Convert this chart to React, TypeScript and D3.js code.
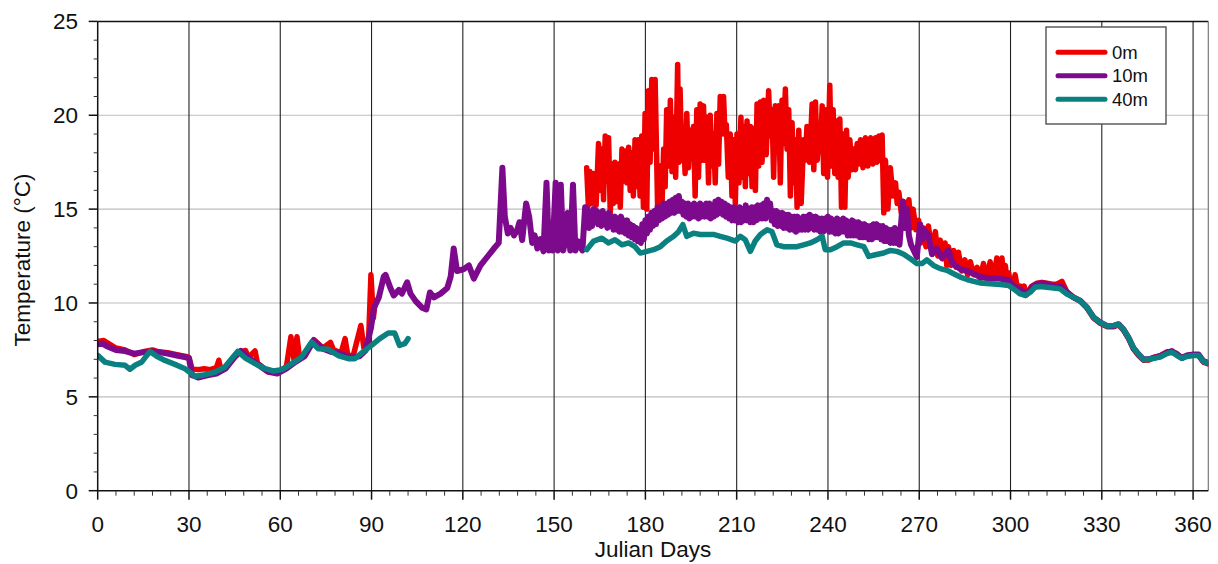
import React from "react";
import * as d3 from "d3";

// ---- Data: water temperature (°C) by Julian day at three depths ----
type Pt = [number, number];
type Cycle = [number, number, number]; // [day, daily max, daily min]

const xTicks = [0, 30, 60, 90, 120, 150, 180, 210, 240, 270, 300, 330, 360];
const yTicks = [0, 5, 10, 15, 20, 25];
const seriesNames = ["0m", "10m", "40m"];
const seriesColors = ["#ee0000", "#7d0a8c", "#0b8080"];

// 0 m, winter/spring
const surfaceEarly: Pt[] = [
  [0, 7.95], [2, 8.0], [4, 7.8], [6, 7.6], [9, 7.5], [12, 7.25], [15, 7.4], [18, 7.5],
  [20, 7.4], [23, 7.35], [26, 7.25], [29, 7.15], [30, 7.1], [31, 6.5], [33, 6.45], [35, 6.5],
  [37, 6.45], [39, 6.55], [39.8, 6.95], [40.5, 6.45], [42, 6.6], [45, 7.15], [47, 7.4],
  [48.6, 7.47], [49.5, 7.1], [51.7, 7.45], [52.5, 6.8], [56, 6.35], [59, 6.3], [62, 6.6],
  [63.5, 8.2], [64.5, 7.0], [65.5, 8.2], [66.3, 7.1], [68, 7.25], [71, 8.05], [74, 7.6],
  [76.5, 7.9], [77.5, 7.5], [80, 7.35], [81.3, 8.1], [82.2, 7.2], [84, 7.2], [86.5, 8.8],
  [87.5, 7.6], [89, 7.9], [89.8, 11.5], [90.6, 9.2], [91, 9.8],
];

// 0 m, summer: daily max / min
const surfaceCycles: Cycle[] = [
  [160.7, 17.2, 15.2], [161.8, 17.0, 15.3], [163.0, 16.9, 15.2], [164.6, 18.5, 16.0],
  [165.7, 18.2, 15.5], [166.8, 18.9, 16.5], [167.9, 18.8, 14.8], [169.0, 17.4, 15.3],
  [170.0, 17.5, 15.4], [171.2, 17.4, 15.1], [172.3, 18.2, 16.5], [173.4, 18.1, 16.4],
  [174.5, 18.3, 16.0], [175.5, 18.0, 15.7], [176.6, 18.7, 16.2], [177.7, 18.7, 15.7],
  [178.8, 18.9, 15.1], [179.9, 20.1, 15.0], [181.0, 21.3, 17.5], [182.1, 21.9, 18.2],
  [183.2, 21.9, 14.8], [184.9, 17.3, 15.1], [186.0, 18.2, 16.2], [187.0, 20.3, 17.3],
  [188.2, 20.8, 17.0], [189.3, 19.9, 16.7], [190.6, 22.7, 17.5], [191.4, 21.4, 17.6],
  [192.5, 19.0, 16.9], [193.6, 20.1, 17.2], [194.7, 19.2, 18.5], [195.8, 19.4, 15.7],
  [196.9, 20.3, 16.7], [198.0, 20.6, 17.6], [199.1, 20.5, 17.6], [200.2, 19.9, 16.4],
  [201.3, 20.0, 17.3], [202.4, 19.0, 16.4], [203.5, 20.1, 17.4], [204.6, 21.0, 19.0],
  [205.7, 21.0, 19.0], [206.6, 19.5, 16.7], [207.9, 19.0, 15.7], [209.0, 18.7, 15.3],
  [210.1, 19.0, 16.4], [211.4, 19.9, 16.7], [212.3, 19.4, 16.2], [213.4, 19.7, 16.9],
  [214.5, 19.4, 16.2], [215.6, 19.3, 16.0], [216.7, 20.6, 17.3], [217.8, 20.7, 17.5],
  [218.9, 20.8, 17.9], [220.5, 21.3, 18.9], [221.6, 20.3, 16.7], [222.7, 20.5, 18.9],
  [223.8, 20.5, 16.4], [224.9, 20.8, 18.5], [226.0, 21.4, 18.2], [227.1, 20.3, 15.7],
  [228.2, 19.6, 16.4], [229.3, 18.7, 15.1], [230.4, 19.2, 15.3], [232.0, 18.7, 17.6],
  [233.1, 19.4, 17.5], [234.8, 20.6, 17.1], [235.9, 20.7, 17.6], [237.0, 18.7, 18.2],
  [238.1, 20.5, 16.9], [239.1, 20.3, 16.7], [240.6, 21.6, 17.3], [241.7, 20.3, 16.9],
  [242.8, 19.7, 16.7], [243.9, 19.8, 15.1], [245.0, 19.0, 15.1], [246.1, 19.2, 16.7],
  [247.2, 18.7, 17.1], [248.5, 18.2, 17.1], [249.6, 18.5, 17.4], [250.7, 18.7, 17.2],
  [252.3, 18.8, 17.3], [254.0, 18.8, 17.4], [255.6, 18.8, 17.5], [256.7, 18.9, 17.6],
  [257.8, 18.95, 14.8], [258.9, 17.6, 15.0], [260.5, 17.2, 15.7], [262.2, 16.4, 15.3],
  [263.3, 15.9, 14.8], [264.9, 15.4, 14.6], [266.6, 15.5, 14.0], [268.0, 15.0, 13.9],
  [269.8, 14.4, 13.2], [271.4, 14.0, 13.0], [273.0, 14.1, 12.8], [275.3, 13.8, 12.5],
  [276.9, 13.35, 12.35], [278.5, 13.2, 12.0], [279.6, 13.0, 12.0], [281.3, 12.8, 11.9],
  [282.9, 12.7, 11.7], [285.0, 12.3, 11.5], [286.8, 12.2, 11.5], [289.0, 11.9, 11.3],
  [291.1, 12.1, 11.3], [293.3, 12.2, 11.3], [295.5, 12.4, 11.3], [297.2, 12.4, 11.2],
  [298.3, 12.0, 11.2], [299.4, 11.6, 11.1], [300.4, 11.2, 10.9], [301.5, 11.5, 10.7],
  [303.2, 10.9, 10.5], [304.5, 10.9, 10.4],
];

// 0 m, autumn/winter
const surfaceLate: Pt[] = [
  [305.4, 10.5], [307, 10.9], [308.7, 11.05], [310.3, 11.1], [312, 11.05], [313.6, 11.0],
  [315.2, 11.0], [316.9, 11.15], [318.5, 10.6], [320.7, 10.3], [322.9, 10.1], [325.1, 9.75],
  [327.3, 9.2], [329.5, 8.92], [331.7, 8.74], [333.9, 8.74], [335.5, 8.83], [337.1, 8.56],
  [338.8, 8.1], [340.4, 7.55], [342.1, 7.2], [343.7, 6.95], [345.4, 6.96], [347, 7.1],
  [349.2, 7.2], [351.4, 7.4], [353, 7.4], [354.7, 7.3], [356.3, 7.05], [358, 7.2],
  [360.1, 7.25], [361.8, 7.2], [363.4, 6.85], [365, 6.75],
];

// 10 m, winter to early summer
const midEarly: Pt[] = [
  [0, 7.8], [1.5, 7.85], [3, 7.7], [6, 7.5], [9, 7.44], [12, 7.3], [15, 7.38], [18, 7.42],
  [20, 7.38], [23, 7.3], [26, 7.2], [29, 7.1], [30, 7.05], [31, 6.15], [33, 6.03], [36, 6.15],
  [39, 6.24], [42, 6.5], [45, 7.12], [47, 7.45], [50, 7.03], [53, 6.68], [56, 6.33],
  [59, 6.24], [62, 6.5], [65, 6.86], [68, 7.16], [71, 8.0], [74, 7.56], [77, 7.38], [80, 7.3],
  [83, 7.08], [86, 7.16], [88, 7.47], [89.8, 8.67], [90.8, 9.75], [92.4, 10.3], [94, 11.4],
  [94.6, 11.5], [96.2, 10.8], [97.3, 10.4], [99, 10.7], [100, 10.5], [101.7, 11.1],
  [102.8, 10.5], [104.5, 10.1], [106.6, 9.75], [108, 9.66], [109.2, 10.56], [110.5, 10.3],
  [112.7, 10.5], [114.9, 10.8], [116, 11.4], [117, 12.9], [118.1, 11.7], [120.3, 11.8],
  [122, 12.0], [123.6, 11.3], [125.8, 12.0], [128, 12.45], [130.2, 12.9], [131.8, 13.2],
  [133.0, 17.2], [133.8, 14.6], [134.8, 13.7], [135.7, 14.0], [136.8, 13.6], [137.9, 13.9],
  [138.6, 14.3], [139.5, 13.35], [140.8, 15.3], [141.8, 14.6], [142.8, 13.2], [143.6, 13.6],
  [144.5, 12.9], [145.5, 13.4], [146.5, 12.75], [147.5, 16.4], [148.3, 12.8], [149.0, 13.3],
  [149.5, 12.8], [150.5, 16.4], [151.2, 12.8], [152.2, 16.3], [153.0, 12.8], [153.8, 13.4],
  [154.5, 14.8], [155.3, 12.8], [156.2, 16.3], [157.0, 12.8], [157.8, 13.3], [158.5, 13.0],
  [159.3, 12.8], [160.2, 15.1],
];

// 10 m, summer: daily max / min
const midCycles: Cycle[] = [
  [161, 15.0, 14.0], [162, 14.8, 14.1], [163, 15.0, 14.3], [164, 14.9, 14.2], [165, 14.8, 14.1],
  [166, 14.9, 14.2], [167, 14.7, 14.0], [168, 14.8, 14.1], [169, 14.6, 13.9], [170, 14.6, 13.9],
  [171, 14.5, 13.8], [172, 14.6, 13.8], [173, 14.4, 13.7], [174, 14.4, 13.6], [175, 14.2, 13.5],
  [176, 14.1, 13.4], [177, 14.0, 13.3], [178, 13.9, 13.2], [179, 14.2, 13.4], [180, 14.4, 13.7],
  [181, 14.6, 13.9], [182, 14.8, 14.1], [183, 14.9, 14.2], [184, 15.1, 14.4], [185, 15.1, 14.5],
  [186, 15.3, 14.6], [187, 15.3, 14.7], [188, 15.4, 14.8], [189, 15.5, 14.8], [190, 15.6, 14.9],
  [191, 15.7, 14.9], [192, 15.4, 14.7], [193, 15.3, 14.6], [194, 15.3, 14.5], [195, 15.2, 14.6],
  [196, 15.3, 14.6], [197, 15.2, 14.5], [198, 15.3, 14.6], [199, 15.2, 14.6], [200, 15.3, 14.6],
  [201, 15.3, 14.5], [202, 15.2, 14.6], [203, 15.4, 14.7], [204, 15.5, 14.8], [205, 15.4, 14.7],
  [206, 15.3, 14.6], [207, 15.2, 14.5], [208, 15.1, 14.4], [209, 15.1, 14.4], [210, 15.0, 14.3],
  [211, 15.1, 14.3], [212, 15.0, 14.4], [213, 15.2, 14.4], [214, 15.0, 14.3], [215, 15.1, 14.3],
  [216, 15.1, 14.4], [217, 15.2, 14.5], [218, 15.2, 14.5], [219, 15.3, 14.5], [220, 15.5, 14.7],
  [221, 15.3, 14.4], [222, 14.9, 14.2], [223, 14.9, 14.1], [224, 14.8, 14.1], [225, 14.8, 14.0],
  [226, 14.7, 14.0], [227, 14.7, 13.9], [228, 14.6, 13.9], [229, 14.6, 13.8], [230, 14.6, 13.9],
  [231, 14.5, 13.9], [232, 14.6, 13.9], [233, 14.6, 13.9], [234, 14.7, 14.0], [235, 14.6, 13.9],
  [236, 14.6, 13.9], [237, 14.5, 13.8], [238, 14.5, 13.8], [239, 14.5, 13.9], [240, 14.6, 13.8],
  [241, 14.5, 13.8], [242, 14.4, 13.7], [243, 14.5, 13.7], [244, 14.4, 13.8], [245, 14.5, 13.8],
  [246, 14.4, 13.6], [247, 14.3, 13.6], [248, 14.4, 13.6], [249, 14.3, 13.6], [250, 14.3, 13.5],
  [251, 14.2, 13.5], [252, 14.2, 13.5], [253, 14.1, 13.4], [254, 14.1, 13.4], [255, 14.2, 13.5],
  [256, 14.2, 13.5], [257, 14.1, 13.4], [258, 14.1, 13.3], [259, 14.0, 13.3], [260, 13.9, 13.2],
  [261, 13.9, 13.2], [262, 14.0, 13.2], [263, 13.8, 13.1],
];

// 10 m, autumn/winter
const midLate: Pt[] = [
  [264.6, 15.4], [265.3, 14.0], [266.0, 15.0], [266.6, 13.6], [267.3, 13.1], [268.2, 12.8],
  [269.2, 12.45], [270.3, 14.2], [271.0, 13.4], [271.6, 13.9], [273.0, 13.6], [274.2, 12.6],
  [275.8, 12.9], [277.4, 12.4], [278.5, 12.6], [279.6, 12.8], [280.7, 12.2], [281.8, 12.0],
  [283.5, 11.8], [285.7, 11.7], [287.9, 11.56], [290, 11.38], [293.3, 11.3], [296.6, 11.3],
  [299.4, 11.2], [301, 10.9], [303.7, 10.66], [305.4, 10.48], [307, 10.84], [308.7, 11.0],
  [310.3, 11.05], [312, 11.0], [313.6, 10.93], [315.2, 10.9], [316.9, 10.84], [318.5, 10.57],
  [320.7, 10.3], [322.9, 10.12], [325.1, 9.77], [327.3, 9.23], [329.5, 8.96], [331.7, 8.78],
  [333.9, 8.78], [335.5, 8.87], [337.1, 8.6], [338.8, 8.15], [340.4, 7.6], [342.1, 7.26],
  [343.7, 7.0], [345.4, 7.0], [347, 7.08], [349.2, 7.17], [351.4, 7.35], [353, 7.44],
  [354.7, 7.26], [356.3, 7.08], [358, 7.2], [360.1, 7.26], [361.8, 7.26], [363.4, 6.9],
  [365, 6.8],
];

// 40 m, winter/spring
const deepEarly: Pt[] = [
  [0, 7.21], [2.4, 6.85], [5.7, 6.73], [9, 6.68], [10.6, 6.47], [12.3, 6.68], [14.5, 6.86],
  [17.2, 7.42], [19.4, 7.16], [22.1, 6.94], [25.4, 6.73], [28.7, 6.5], [32, 6.1], [35.3, 6.18],
  [38.6, 6.32], [41.8, 6.59], [44, 7.03], [46, 7.42], [48.4, 7.08], [51.7, 6.77], [55, 6.5],
  [57.7, 6.38], [60.5, 6.45], [63.8, 6.77], [67, 7.12], [70.3, 7.92], [72.5, 7.56],
  [75.8, 7.53], [79, 7.2], [82.4, 7.03], [84.5, 7.03], [86.7, 7.33], [90, 7.74], [92.7, 8.1],
  [95.5, 8.4], [97.6, 8.4], [99.2, 7.74], [100.9, 7.83], [102, 8.1],
];

// 40 m, summer to winter
const deepLate: Pt[] = [
  [160.7, 12.84], [163, 13.3], [165.7, 13.45], [167.9, 13.2], [170, 13.37], [172.3, 13.1],
  [174.5, 13.2], [176.6, 13.0], [178.3, 12.66], [180.5, 12.75], [182.7, 12.84], [184.9, 13.0],
  [187, 13.3], [189.3, 13.55], [190.9, 13.8], [192.3, 14.17], [193.6, 13.55], [195.8, 13.72],
  [198, 13.65], [200.2, 13.65], [202.4, 13.65], [204.6, 13.55], [206.8, 13.45], [209.6, 13.3],
  [211.2, 13.55], [212.8, 13.37], [214.5, 12.75], [216.1, 13.3], [217.8, 13.65], [220, 13.9],
  [221.6, 13.8], [223.2, 13.1], [225.4, 13.0], [227.6, 13.0], [229.8, 13.0], [232, 13.1],
  [234.2, 13.2], [236.4, 13.37], [238.1, 13.55], [239.1, 12.84], [240.8, 12.84], [243, 13.0],
  [245.2, 13.2], [247.4, 13.2], [249.6, 13.1], [251.8, 13.0], [253.4, 12.48], [255.6, 12.57],
  [258.3, 12.66], [260.5, 12.8], [262.7, 12.75], [264.9, 12.6], [267.1, 12.35], [269.2, 12.1],
  [270.9, 12.1], [272.5, 12.3], [274.7, 12.0], [276.9, 11.83], [279.1, 11.74], [281.3, 11.56],
  [283.5, 11.38], [285.7, 11.25], [287.9, 11.15], [290, 11.07], [293.3, 11.02], [296.6, 10.98],
  [299.4, 10.93], [301, 10.75], [303.2, 10.48], [304.8, 10.4], [306.5, 10.57], [308.1, 10.84],
  [309.8, 10.88], [312, 10.84], [314.1, 10.8], [316.3, 10.75], [318.5, 10.48], [320.7, 10.3],
  [322.9, 10.12], [325.1, 9.77], [327.3, 9.23], [329.5, 8.96], [331.7, 8.78], [333.9, 8.8],
  [335.5, 8.85], [337.1, 8.6], [338.8, 8.15], [340.4, 7.6], [342.1, 7.26], [343.7, 6.98],
  [345.4, 7.0], [347, 7.05], [349.2, 7.12], [351.4, 7.3], [353, 7.38], [354.7, 7.2],
  [356.3, 7.05], [358, 7.15], [360.1, 7.2], [361.8, 7.2], [363.4, 6.88], [365, 6.8],
];

// Daily max sits on its day, the min halfway to the next record.
function cyclesToPoints(cycles: Cycle[]): Pt[] {
  const out: Pt[] = [];
  cycles.forEach(([d, hi, lo], i) => {
    const next = i < cycles.length - 1 ? cycles[i + 1][0] : d + 1;
    out.push([d, hi]);
    out.push([(d + next) / 2, lo]);
  });
  return out;
}

const W = 1218;
const H = 564;
const plot = { left: 97.7, right: 1208.3, top: 21.4, bottom: 490.7 };
const FONT = "'Liberation Sans', Arial, Helvetica, sans-serif";
const strokeWidths = [5.5, 6, 5.5];

export default function App() {
  const x = d3.scaleLinear().domain([0, 365]).range([plot.left, plot.right]);
  const y = d3.scaleLinear().domain([0, 25]).range([plot.bottom, plot.top]);
  const line = d3
    .line<Pt>()
    .x((p) => x(p[0]))
    .y((p) => y(p[1]));

  const surface = [
    surfaceEarly,
    [...cyclesToPoints(surfaceCycles), ...surfaceLate],
  ];
  const mid = [[...midEarly, ...cyclesToPoints(midCycles), ...midLate]];
  const deep = [deepEarly, deepLate];
  const groups = [surface, mid, deep];

  const minorX = d3.range(0, 366, 6).filter((d) => d % 30 !== 0);
  const minorY = d3.range(0, 26, 1).filter((v) => v % 5 !== 0);

  return (
    <svg
      width={W}
      height={H}
      viewBox={`0 0 ${W} ${H}`}
      style={{ position: "absolute", left: 0, top: 0, background: "#fff" }}
      fontFamily={FONT}
    >
      <defs>
        <clipPath id="plotClip">
          <rect x={plot.left} y={plot.top - 4} width={plot.right - plot.left} height={plot.bottom - plot.top + 4} />
        </clipPath>
      </defs>

      {/* horizontal grid */}
      {yTicks.filter((v) => v > 0 && v < 25).map((v) => (
        <line key={`gy${v}`} x1={plot.left} x2={plot.right} y1={y(v)} y2={y(v)} stroke="#bdbdbd" strokeWidth={1.2} />
      ))}
      {/* vertical grid */}
      {xTicks.filter((d) => d > 0).map((d) => (
        <line key={`gx${d}`} x1={x(d)} x2={x(d)} y1={plot.top} y2={plot.bottom} stroke="#222" strokeWidth={1.1} />
      ))}
      {/* frame */}
      <line x1={plot.left} x2={plot.right} y1={plot.top} y2={plot.top} stroke="#111" strokeWidth={1.5} />
      <line x1={plot.right} x2={plot.right} y1={plot.top} y2={plot.bottom} stroke="#777" strokeWidth={1.2} />

      {/* series */}
      <g clipPath="url(#plotClip)" fill="none" strokeLinejoin="round" strokeLinecap="round">
        {groups.map((segs, gi) =>
          segs.map((seg, si) => (
            <path key={`s${gi}-${si}`} d={line(seg) ?? ""} stroke={seriesColors[gi]} strokeWidth={strokeWidths[gi]} />
          ))
        )}
      </g>

      {/* axes */}
      <line x1={plot.left} x2={plot.left} y1={plot.top} y2={plot.bottom} stroke="#111" strokeWidth={1.5} />
      <line x1={plot.left} x2={plot.right} y1={plot.bottom} y2={plot.bottom} stroke="#111" strokeWidth={1.5} />

      {yTicks.map((v) => (
        <g key={`ty${v}`}>
          <line x1={plot.left - 9} x2={plot.left} y1={y(v)} y2={y(v)} stroke="#111" strokeWidth={1.5} />
          <text x={78} y={y(v) + 8} textAnchor="end" fontSize={22.5} fill="#111">
            {v}
          </text>
        </g>
      ))}
      {minorY.map((v) => (
        <line key={`my${v}`} x1={plot.left - 4} x2={plot.left} y1={y(v)} y2={y(v)} stroke="#333" strokeWidth={1} />
      ))}

      {xTicks.map((d) => (
        <g key={`tx${d}`}>
          <line x1={x(d)} x2={x(d)} y1={plot.bottom} y2={plot.bottom + 9} stroke="#111" strokeWidth={1.5} />
          <text x={x(d)} y={531.5} textAnchor="middle" fontSize={22.5} fill="#111">
            {d}
          </text>
        </g>
      ))}
      {minorX.map((d) => (
        <line key={`mx${d}`} x1={x(d)} x2={x(d)} y1={plot.bottom} y2={plot.bottom + 5} stroke="#333" strokeWidth={1} />
      ))}

      <text x={(plot.left + plot.right) / 2} y={557} textAnchor="middle" fontSize={22.5} fill="#111">
        Julian Days
      </text>
      <text
        transform={`translate(30, 260) rotate(-90)`}
        textAnchor="middle"
        fontSize={22.5}
        fill="#111"
      >
        Temperature (°C)
      </text>

      {/* legend */}
      <g>
        <rect x={1046} y={27} width={120} height={97} fill="#fff" stroke="#444" strokeWidth={1.3} />
        {seriesNames.map((name, i) => (
          <g key={name}>
            <line x1={1058} x2={1105} y1={52.3 + i * 23.5} y2={52.3 + i * 23.5} stroke={seriesColors[i]} strokeWidth={5} strokeLinecap="round" />
            <text x={1112} y={52.3 + i * 23.5 + 6.5} fontSize={18.5} fill="#111">
              {name}
            </text>
          </g>
        ))}
      </g>
    </svg>
  );
}
